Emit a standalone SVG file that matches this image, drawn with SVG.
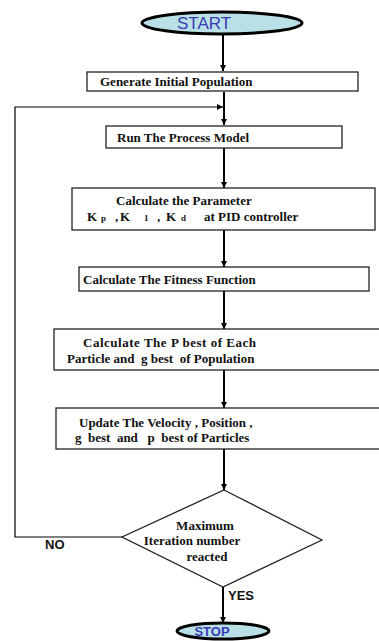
<svg xmlns="http://www.w3.org/2000/svg" width="379" height="641" viewBox="0 0 379 641">
<style>
.box{fill:#fff;stroke:#222;stroke-width:1.3}
.t{font-family:"Liberation Serif","Times New Roman",serif;font-weight:bold;font-size:13px;fill:#111}
.sub{font-size:9px}
.term{fill:#b8e0e6;stroke:#000;stroke-width:3}
.tt{font-family:"Liberation Sans",Arial,sans-serif;fill:#3a3ab4}
.lab{font-family:"Liberation Sans",Arial,sans-serif;font-weight:bold;font-size:13px;fill:#111}
.c{fill:none;stroke:#000;stroke-width:2}
.c1{fill:none;stroke:#000;stroke-width:1.2}
</style>
<defs>
<marker id="ah" viewBox="0 0 10 10" refX="10" refY="5" markerWidth="6" markerHeight="6" markerUnits="userSpaceOnUse" orient="auto">
<path d="M0,0 L10,5 L0,10 z" fill="#000"/>
</marker>
</defs>
<g id="connectors">
<line class="c" x1="223" y1="35" x2="223" y2="71" marker-end="url(#ah)"/>
<line class="c" x1="224" y1="92" x2="224" y2="125" marker-end="url(#ah)"/>
<line class="c" x1="224" y1="148" x2="224" y2="188" marker-end="url(#ah)"/>
<line class="c" x1="224" y1="230" x2="224" y2="267" marker-end="url(#ah)"/>
<line class="c" x1="224" y1="291" x2="224" y2="329" marker-end="url(#ah)"/>
<line class="c" x1="224" y1="370" x2="224" y2="408" marker-end="url(#ah)"/>
<line class="c" x1="224" y1="449" x2="224" y2="490" marker-end="url(#ah)"/>
<line class="c" x1="223" y1="587" x2="223" y2="623" marker-end="url(#ah)"/>
<polyline class="c1" points="122,537 15,537 15,107 223,107" marker-end="url(#ah)"/>
<text class="lab" x="45" y="549">NO</text>
<text class="lab" x="228" y="600">YES</text>
</g>
<g id="start">
<ellipse class="term" cx="222" cy="23" rx="80" ry="11"/>
<text class="tt" x="204" y="29" font-size="17" text-anchor="middle">START</text>
</g>
<g id="generate">
<rect class="box" x="87" y="72" width="271" height="19"/>
<text class="t" x="100" y="86">Generate Initial Population</text>
</g>
<g id="run">
<rect class="box" x="106" y="126" width="236" height="22"/>
<text class="t" x="117" y="142">Run The Process Model</text>
</g>
<g id="calcparam">
<rect class="box" x="72" y="188" width="303" height="42"/>
<text class="t" x="116" y="205">Calculate the Parameter</text>
<text class="t" y="221"><tspan x="87">K</tspan><tspan class="sub" x="101">p</tspan><tspan x="115">,</tspan><tspan x="120">K</tspan><tspan class="sub" x="144">1</tspan><tspan x="157">,</tspan><tspan x="166">K</tspan><tspan class="sub" x="181">d</tspan><tspan x="204">at PID controller</tspan></text>
</g>
<g id="fitness">
<rect class="box" x="79" y="267" width="290" height="24"/>
<text class="t" x="83" y="284">Calculate The Fitness Function</text>
</g>
<g id="pbest">
<rect class="box" x="54" y="329" width="330" height="41"/>
<text class="t" x="83" y="347" textLength="173" lengthAdjust="spacing">Calculate The P best of Each</text>
<text class="t" x="67" y="363" xml:space="preserve">Particle and  g best  of Population</text>
</g>
<g id="update">
<rect class="box" x="56" y="408" width="330" height="41"/>
<text class="t" x="79" y="427" xml:space="preserve">Update The Velocity , Position ,</text>
<text class="t" x="75" y="442" xml:space="preserve">g  best  and   p  best of Particles</text>
</g>
<g id="decision">
<polygon class="box" points="224,490 322,540 223,587 122,537"/>
<text class="t" x="205" y="530" text-anchor="middle">Maximum</text>
<text class="t" x="192" y="545" text-anchor="middle">Iteration number</text>
<text class="t" x="207" y="561" text-anchor="middle">reacted</text>
</g>
<g id="stop">
<ellipse class="term" cx="223" cy="631" rx="46" ry="8"/>
<text class="tt" x="212" y="636" font-size="13" font-weight="bold" text-anchor="middle">STOP</text>
</g>
</svg>
